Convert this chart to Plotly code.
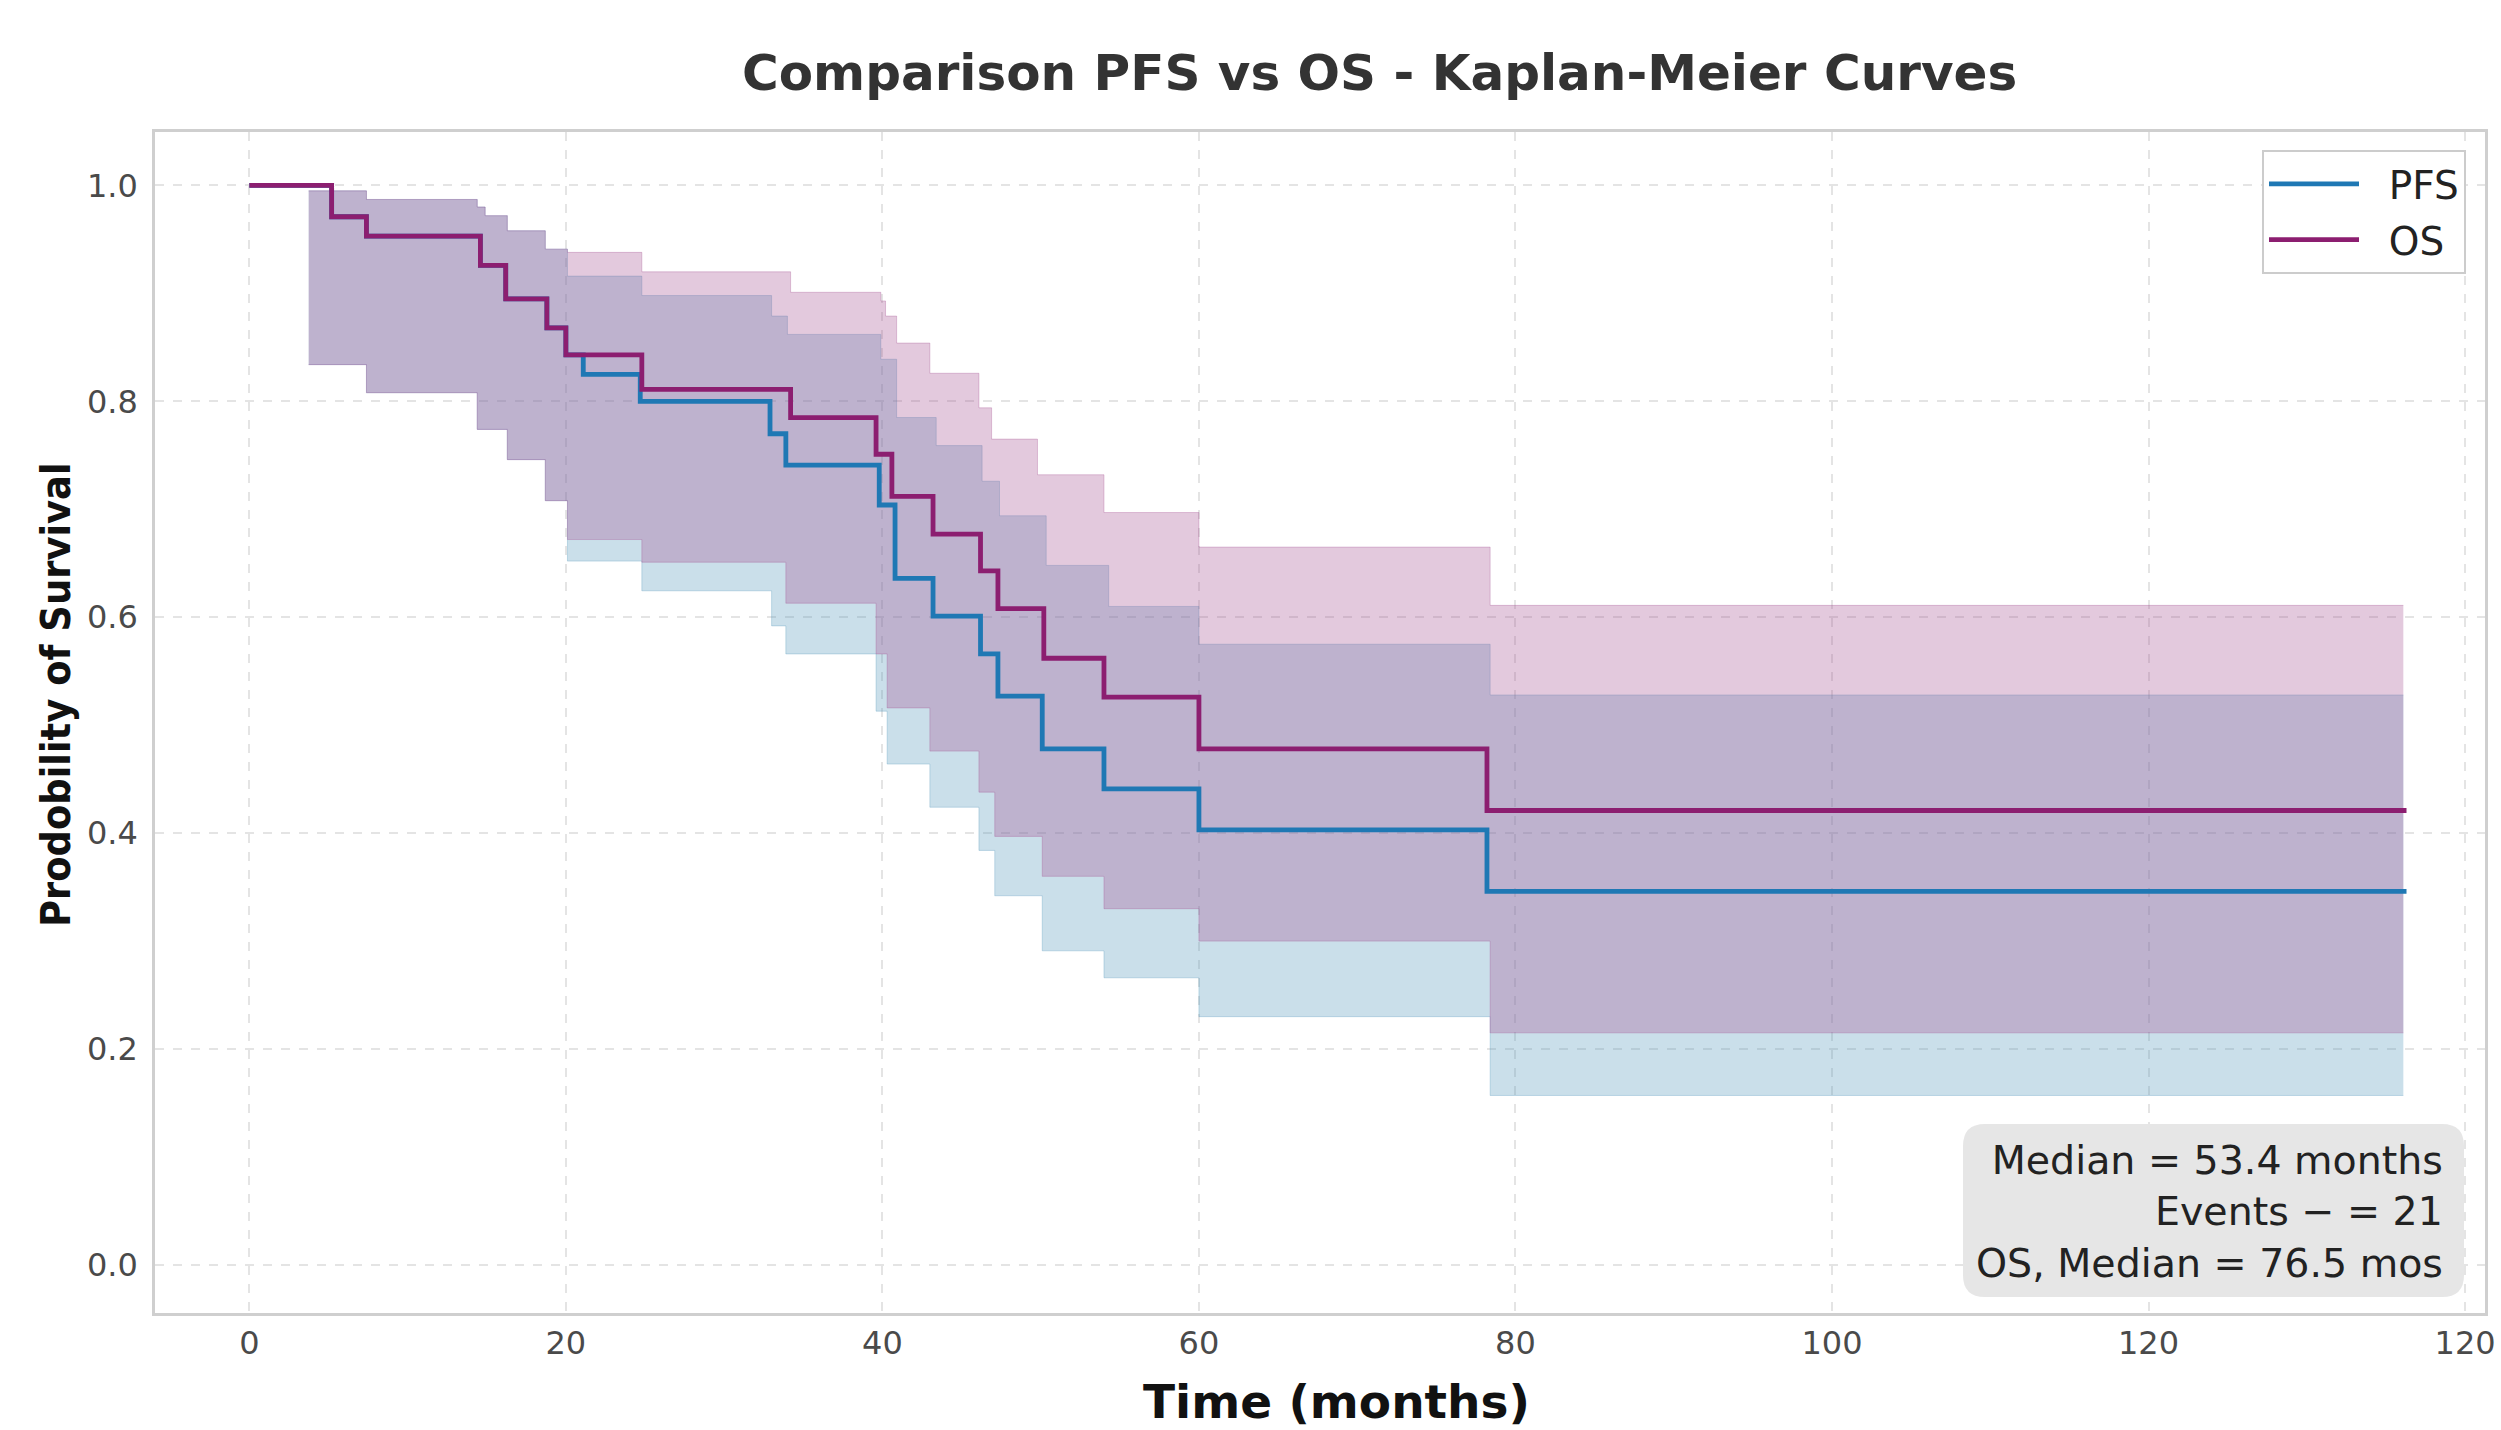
import plotly.graph_objects as go

# ---------------- data ----------------
pfs_t = [0, 5.2, 7.4, 14.6, 16.2, 18.8, 20.0, 21.1, 24.7, 32.9, 33.9, 39.8, 40.8,
         43.2, 46.2, 47.3, 50.1, 54.0, 60.0, 78.2, 136.3]
pfs_s = [1.0, 0.971, 0.953, 0.926, 0.895, 0.868, 0.843, 0.825, 0.800, 0.770, 0.741,
         0.704, 0.636, 0.601, 0.566, 0.527, 0.478, 0.441, 0.403, 0.346, 0.346]

os_t = [0, 5.2, 7.4, 14.6, 16.2, 18.8, 20.0, 24.8, 34.2, 39.6, 40.6, 43.2, 46.2,
        47.3, 50.2, 54.0, 60.0, 78.2, 136.3]
os_s = [1.0, 0.971, 0.953, 0.926, 0.895, 0.868, 0.843, 0.811, 0.785, 0.751, 0.712,
        0.677, 0.643, 0.608, 0.562, 0.526, 0.478, 0.421, 0.421]

pfs_up_t = [3.75, 7.4, 14.4, 14.9, 16.3, 18.7, 20.1, 24.8, 33.0, 34.0, 39.9, 40.9,
            43.4, 46.3, 47.4, 50.35, 54.3, 60.0, 78.4, 136.1]
pfs_up = [0.995, 0.987, 0.980, 0.972, 0.958, 0.941, 0.916, 0.898, 0.879, 0.862, 0.839,
          0.785, 0.759, 0.726, 0.694, 0.648, 0.610, 0.575, 0.528, 0.528]
pfs_lo_t = [3.75, 7.4, 14.4, 16.3, 18.7, 20.1, 24.8, 33.0, 33.9, 39.6, 40.3, 43.0,
            46.1, 47.1, 50.1, 54.0, 60.0, 78.4, 136.1]
pfs_lo = [0.834, 0.808, 0.774, 0.746, 0.708, 0.652, 0.6245, 0.592, 0.566, 0.513, 0.464,
          0.424, 0.384, 0.342, 0.291, 0.266, 0.230, 0.157, 0.157]

os_up_t = [3.75, 7.4, 14.4, 14.9, 16.3, 18.7, 20.1, 24.8, 34.2, 39.9, 40.2, 40.9,
           43.0, 46.1, 46.9, 49.8, 54.0, 60.0, 78.4, 136.1]
os_up = [0.995, 0.987, 0.980, 0.972, 0.958, 0.941, 0.938, 0.920, 0.901, 0.893, 0.879,
         0.854, 0.826, 0.794, 0.765, 0.732, 0.697, 0.665, 0.611, 0.611]
os_lo_t = [3.75, 7.4, 14.4, 16.3, 18.7, 20.1, 24.8, 33.9, 39.6, 40.3, 43.0, 46.1,
           47.1, 50.1, 54.0, 60.0, 78.4, 136.1]
os_lo = [0.834, 0.808, 0.774, 0.746, 0.708, 0.672, 0.651, 0.613, 0.566, 0.516, 0.476,
         0.438, 0.397, 0.360, 0.330, 0.300, 0.215, 0.215]

x_tickvals = [0, 20, 40, 60, 80, 100, 120, 140]
x_ticktext = ["0", "20", "40", "60", "80", "100", "120", "120"]
y_tickvals = [0.0, 0.2, 0.4, 0.6, 0.8, 1.0]
y_ticktext = ["0.0", "0.2", "0.4", "0.6", "0.8", "1.0"]

series_names = ["PFS", "OS"]
title_text = "Comparison PFS vs OS - Kaplan-Meier Curves"
x_title = "Time (months)"
y_title = "Prodobility of Survival"
stats_lines = ["Median = 53.4 months", "Events \u2212 = 21", "OS, Median = 76.5 mos"]

# ---------------- style ----------------
W, H = 2501, 1430
L, R, T, B = 155, 2485, 132, 1313
PFS_LINE = "#1f78b4"
OS_LINE = "#8c1e70"
PFS_FILL = "rgba(78,148,185,0.30)"
OS_FILL = "rgba(162,75,142,0.30)"
NB = "\u00a0\u00a0"


def px(x):
    return (x - L) / (R - L)


def py(y):
    return (B - y) / (B - T)


fig = go.Figure()


def add_band(lo_t, lo, up_t, up, fill):
    fig.add_trace(go.Scatter(x=lo_t, y=lo, mode="lines", line=dict(width=1, color=fill, shape="hv"),
                             showlegend=False, hoverinfo="skip"))
    fig.add_trace(go.Scatter(x=up_t, y=up, mode="lines", line=dict(width=1, color=fill, shape="hv"),
                             fill="tonexty", fillcolor=fill, showlegend=False, hoverinfo="skip"))


add_band(pfs_lo_t, pfs_lo, pfs_up_t, pfs_up, PFS_FILL)
add_band(os_lo_t, os_lo, os_up_t, os_up, OS_FILL)

fig.add_trace(go.Scatter(x=pfs_t, y=pfs_s, mode="lines", name=NB + series_names[0],
                         line=dict(color=PFS_LINE, width=4.8, shape="hv"), legendgroup="a"))
fig.add_trace(go.Scatter(x=os_t, y=os_s, mode="lines", name=NB + series_names[1],
                         line=dict(color=OS_LINE, width=4.8, shape="hv"), legendgroup="b"))

axis_common = dict(showgrid=True, gridcolor="#e4e4e4", griddash="dash", gridwidth=1.5,
                   zeroline=False, showline=True, mirror=True, linecolor="#cfcfcf",
                   linewidth=2.5, ticks="", tickfont=dict(family="DejaVu Sans", size=32, color="#4a4a4a"))

fig.update_xaxes(range=[-5.96, 141.26], tickvals=x_tickvals, ticktext=x_ticktext,
                 ticklabelstandoff=0, **axis_common)
fig.update_yaxes(range=[-0.0445, 1.0495], tickvals=y_tickvals, ticktext=y_ticktext,
                 ticklabelstandoff=8, **axis_common)

# rounded stats box
bx0, by0, bx1, by1, rr = 1963, 1124, 2464, 1297, 22
rx, ry = rr / (R - L), rr / (B - T)
X0, X1, Y0, Y1 = px(bx0), px(bx1), py(by1), py(by0)
path = (f"M {X0+rx},{Y0} L {X1-rx},{Y0} Q {X1},{Y0} {X1},{Y0+ry} L {X1},{Y1-ry} "
        f"Q {X1},{Y1} {X1-rx},{Y1} L {X0+rx},{Y1} Q {X0},{Y1} {X0},{Y1-ry} "
        f"L {X0},{Y0+ry} Q {X0},{Y0} {X0+rx},{Y0} Z")
fig.add_shape(type="path", path=path, xref="paper", yref="paper",
              fillcolor="#e6e6e6", line=dict(width=0), layer="above")

fig.add_annotation(x=px(2445), y=py(1211), xref="paper", yref="paper",
                   text="<br>".join(stats_lines), showarrow=False, align="right",
                   xanchor="right", yanchor="middle",
                   font=dict(family="DejaVu Sans", size=39.5, color="#222222"))

fig.add_annotation(x=px(1379), y=py(73), xref="paper", yref="paper",
                   text=f"<b>{title_text}</b>", showarrow=False, xanchor="center", yanchor="middle",
                   font=dict(family="DejaVu Sans", size=50, color="#333333"))
fig.add_annotation(x=px(1336), y=py(1401), xref="paper", yref="paper",
                   text=f"<b>{x_title}</b>", showarrow=False, xanchor="center", yanchor="middle",
                   font=dict(family="DejaVu Sans", size=47, color="#111111"))
fig.add_annotation(x=px(56), y=py(695), xref="paper", yref="paper",
                   text=f"<b>{y_title}</b>", showarrow=False, xanchor="center", yanchor="middle",
                   textangle=-90,
                   font=dict(family="Liberation Sans Narrow, DejaVu Sans Condensed, Arial Narrow, Liberation Sans",
                             size=41, color="#111111"))

fig.update_layout(
    width=W, height=H,
    margin=dict(l=L, r=W - R, t=T, b=H - B, autoexpand=False),
    paper_bgcolor="white", plot_bgcolor="white",
    showlegend=True,
    legend=dict(x=px(2466), y=py(150), xanchor="right", yanchor="top",
                bgcolor="white", bordercolor="#cccccc", borderwidth=2,
                font=dict(family="DejaVu Sans", size=39, color="#222222"),
                itemwidth=90, traceorder="grouped", tracegroupgap=2),
)

fig.write_html("out.html", config={"displayModeBar": False},
               post_script="document.body.style.margin='0px';document.body.style.overflow='hidden';")
